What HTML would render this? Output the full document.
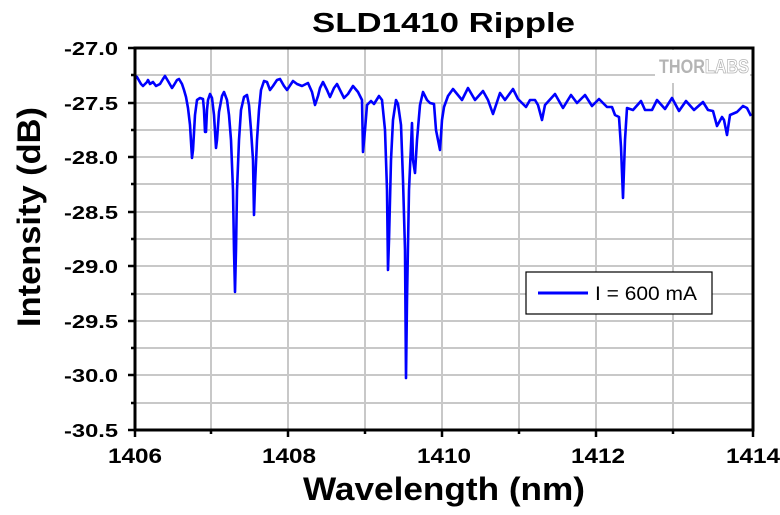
<!DOCTYPE html>
<html><head><meta charset="utf-8"><style>
body{margin:0;background:#fff;}
text{font-family:"Liberation Sans",Arial,sans-serif;font-weight:bold;}
</style></head><body>
<svg width="780" height="510" xmlns="http://www.w3.org/2000/svg">
<rect width="780" height="510" fill="#fff"/>
<g stroke="#c8c8c8" stroke-width="2">
<line x1="211" y1="48" x2="211" y2="430"/><line x1="288" y1="48" x2="288" y2="430"/>
<line x1="365" y1="48" x2="365" y2="430"/><line x1="442" y1="48" x2="442" y2="430"/>
<line x1="519" y1="48" x2="519" y2="430"/><line x1="596" y1="48" x2="596" y2="430"/>
<line x1="673" y1="48" x2="673" y2="430"/>
<line x1="135" y1="75" x2="752" y2="75"/><line x1="135" y1="103" x2="752" y2="103"/>
<line x1="135" y1="130" x2="752" y2="130"/><line x1="135" y1="157" x2="752" y2="157"/>
<line x1="135" y1="184" x2="752" y2="184"/><line x1="135" y1="212" x2="752" y2="212"/>
<line x1="135" y1="239" x2="752" y2="239"/><line x1="135" y1="266" x2="752" y2="266"/>
<line x1="135" y1="294" x2="752" y2="294"/><line x1="135" y1="321" x2="752" y2="321"/>
<line x1="135" y1="348" x2="752" y2="348"/><line x1="135" y1="375" x2="752" y2="375"/>
<line x1="135" y1="403" x2="752" y2="403"/>
</g>
<rect x="655" y="50" width="95" height="33" fill="#fff"/>
<text x="659" y="73" font-size="19" fill="#b4b4b4" textLength="90" lengthAdjust="spacingAndGlyphs">THOR<tspan fill="#fff" stroke="#b4b4b4" stroke-width="0.8">LABS</tspan></text>
<polyline fill="none" stroke="#0000ff" stroke-width="2.6" stroke-linejoin="round" points="
134,75 137,77 141,84 143,86 147,82 148,80 150,84 153,82 156,86 160,84 163,79 165,76 168,81 172,88 174,85 177,80 179,79 182,84 184,90 186,97 188,108 190,125 192,158 193,150 195,115 197,100 200,98 203,99 204,110 205,132 206,132 207,110 208,100 210,94 212,98 214,115 216,148 217,140 219,112 222,96 224,92 227,100 229,115 231,140 233,190 234,250 235,292 236,250 237,190 239,140 241,110 244,97 247,95 249,105 251,130 253,160 254,215 255,185 257,140 259,110 261,90 264,81 267,82 270,90 273,86 277,80 280,79 284,86 287,90 293,81 297,84 302,86 308,83 312,92 315,105 318,96 320,88 323,82 327,90 330,97 334,88 337,84 341,92 344,98 348,94 353,86 358,92 362,100 363,152 365,130 367,105 371,101 374,104 379,96 382,100 385,130 387,190 388,270 389,240 391,160 393,120 396,100 398,104 401,125 403,180 405,250 406,378 407,300 409,190 412,123 413,160 415,173 417,140 420,105 423,92 427,100 430,103 434,104 436,130 440,150 442,120 444,107 448,96 453,89 462,100 468,88 475,100 483,91 488,100 493,114 500,93 505,100 513,89 518,99 526,107 530,100 535,100 538,105 542,120 545,105 555,94 563,108 571,95 577,103 585,95 592,106 599,99 607,107 612,107 615,115 619,117 621,147 623,198 625,140 627,108 633,110 641,101 645,110 652,110 657,100 665,109 672,98 679,111 686,101 694,110 703,102 708,110 713,111 717,126 722,117 724,120 727,135 730,115 737,112 743,106 747,108 751,116"/>
<rect x="135" y="48" width="618" height="382" stroke="#000" stroke-width="3" fill="none"/>
<g stroke="#000" stroke-width="2.5">
<line x1="128" y1="48" x2="135" y2="48"/><line x1="131" y1="75" x2="135" y2="75"/>
<line x1="128" y1="103" x2="135" y2="103"/><line x1="131" y1="130" x2="135" y2="130"/>
<line x1="128" y1="157" x2="135" y2="157"/><line x1="131" y1="184" x2="135" y2="184"/>
<line x1="128" y1="212" x2="135" y2="212"/><line x1="131" y1="239" x2="135" y2="239"/>
<line x1="128" y1="266" x2="135" y2="266"/><line x1="131" y1="294" x2="135" y2="294"/>
<line x1="128" y1="321" x2="135" y2="321"/><line x1="131" y1="348" x2="135" y2="348"/>
<line x1="128" y1="375" x2="135" y2="375"/><line x1="131" y1="403" x2="135" y2="403"/>
<line x1="128" y1="430" x2="135" y2="430"/>
<line x1="135" y1="430" x2="135" y2="437"/><line x1="211" y1="430" x2="211" y2="434"/>
<line x1="288" y1="430" x2="288" y2="437"/><line x1="365" y1="430" x2="365" y2="434"/>
<line x1="442" y1="430" x2="442" y2="437"/><line x1="519" y1="430" x2="519" y2="434"/>
<line x1="596" y1="430" x2="596" y2="437"/><line x1="673" y1="430" x2="673" y2="434"/>
<line x1="753" y1="430" x2="753" y2="437"/>
</g>
<g font-size="18">
<text x="64" y="55" textLength="54" lengthAdjust="spacingAndGlyphs">-27.0</text>
<text x="64" y="110" textLength="54" lengthAdjust="spacingAndGlyphs">-27.5</text>
<text x="64" y="164" textLength="54" lengthAdjust="spacingAndGlyphs">-28.0</text>
<text x="64" y="219" textLength="54" lengthAdjust="spacingAndGlyphs">-28.5</text>
<text x="64" y="273" textLength="54" lengthAdjust="spacingAndGlyphs">-29.0</text>
<text x="64" y="328" textLength="54" lengthAdjust="spacingAndGlyphs">-29.5</text>
<text x="64" y="382" textLength="54" lengthAdjust="spacingAndGlyphs">-30.0</text>
<text x="64" y="437" textLength="54" lengthAdjust="spacingAndGlyphs">-30.5</text>
</g>
<g font-size="21">
<text x="108" y="463" textLength="54" lengthAdjust="spacingAndGlyphs">1406</text>
<text x="262" y="463" textLength="54" lengthAdjust="spacingAndGlyphs">1408</text>
<text x="417" y="463" textLength="54" lengthAdjust="spacingAndGlyphs">1410</text>
<text x="571" y="463" textLength="54" lengthAdjust="spacingAndGlyphs">1412</text>
<text x="726" y="463" textLength="54" lengthAdjust="spacingAndGlyphs">1414</text>
</g>
<text x="312" y="32" font-size="28" textLength="263" lengthAdjust="spacingAndGlyphs">SLD1410 Ripple</text>
<text x="303" y="500" font-size="32" textLength="282" lengthAdjust="spacingAndGlyphs">Wavelength (nm)</text>
<text transform="translate(40,327) rotate(-90)" font-size="32" textLength="220" lengthAdjust="spacingAndGlyphs">Intensity (dB)</text>
<rect x="526" y="272" width="186" height="42" fill="#fff" stroke="#000" stroke-width="1.2"/>
<line x1="538" y1="293" x2="588" y2="293" stroke="#0000ff" stroke-width="3"/>
<text x="595" y="300" font-size="19" style="font-weight:normal" textLength="102" lengthAdjust="spacingAndGlyphs">I = 600 mA</text>
</svg>
</body></html>
